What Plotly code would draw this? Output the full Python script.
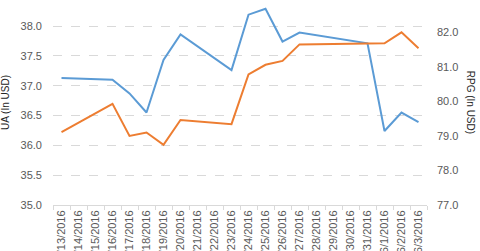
import plotly.graph_objects as go

dates = ["5/13/2016", "5/14/2016", "5/15/2016", "5/16/2016", "5/17/2016", "5/18/2016",
         "5/19/2016", "5/20/2016", "5/21/2016", "5/22/2016", "5/23/2016", "5/24/2016",
         "5/25/2016", "5/26/2016", "5/27/2016", "5/28/2016", "5/29/2016", "5/30/2016",
         "5/31/2016", "6/1/2016", "6/2/2016", "6/3/2016"]

ua = [37.13, None, None, 37.10, 36.87, 36.55, 37.43, 37.86, None, None, 37.26, 38.19,
      38.29, 37.74, 37.89, None, None, None, 37.71, 36.24, 36.55, 36.39]

rpg = [79.11, None, None, 79.93, 79.00, 79.10, 78.74, 79.46, None, None, 79.34, 80.78,
       81.06, 81.17, 81.65, None, None, None, 81.66, 81.68, 82.00, 81.54]

grey = "#595959"
font = "Liberation Sans, Arial, sans-serif"

fig = go.Figure()
fig.add_trace(go.Scatter(x=dates, y=ua, mode="lines", connectgaps=True, name="UA",
                         line=dict(color="#5B9BD5", width=2), yaxis="y"))
fig.add_trace(go.Scatter(x=dates, y=rpg, mode="lines", connectgaps=True, name="RPG",
                         line=dict(color="#ED7D31", width=2), yaxis="y2"))

fig.update_layout(
    width=480, height=251,
    margin=dict(l=53, r=53, t=0, b=46),
    paper_bgcolor="white", plot_bgcolor="white",
    showlegend=False,
    font=dict(family=font, size=11, color=grey),
    xaxis=dict(type="category", categoryorder="array", categoryarray=dates,
               tickangle=-90, tickson="boundaries", ticks="outside", ticklen=4,
               tickcolor="#d9d9d9", showline=True, linecolor="#d9d9d9", linewidth=1,
               showgrid=False, automargin=False, range=[-0.5, len(dates) - 0.5],
               tickfont=dict(size=11, color=grey)),
    yaxis=dict(range=[35, 38.436], tickvals=[35.0, 35.5, 36.0, 36.5, 37.0, 37.5, 38.0, 38.5],
               tickformat=".1f", showgrid=True, gridcolor="#d9d9d9", griddash="dash",
               zeroline=False, showline=False, ticks="", ticklabelstandoff=10,
               automargin=False, tickfont=dict(size=11, color=grey)),
    yaxis2=dict(range=[77, 82.935], tickvals=[77, 78, 79, 80, 81, 82, 83], tickformat=".1f",
                overlaying="y", side="right", showgrid=False, zeroline=False,
                showline=False, ticks="", ticklabelstandoff=9, automargin=False,
                tickfont=dict(size=11, color=grey)),
    annotations=[
        dict(text="UA (In USD)", xref="paper", yref="paper", x=-0.127, y=0.5,
             xanchor="center", yanchor="middle", textangle=-90, showarrow=False,
             font=dict(size=10, color="#262626", family=font)),
        dict(text="RPG (In USD)", xref="paper", yref="paper", x=1.117, y=0.5,
             xanchor="center", yanchor="middle", textangle=90, showarrow=False,
             font=dict(size=10, color="#262626", family=font)),
    ],
)

fig.write_html("out.html")
